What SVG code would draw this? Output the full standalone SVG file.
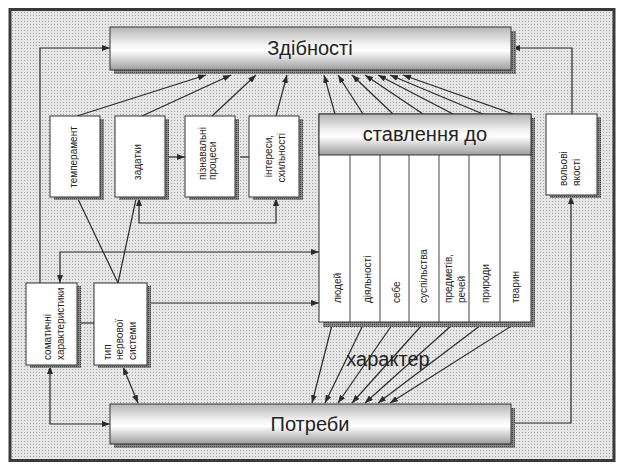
<svg xmlns="http://www.w3.org/2000/svg" width="618" height="464" viewBox="0 0 618 464">
  <defs>
    <pattern id="bg" width="3" height="3" patternUnits="userSpaceOnUse">
      <rect width="3" height="3" fill="#e6e6e6"/>
      <rect width="1" height="1" fill="#a2a2a2"/>
    </pattern>
    <pattern id="sh" width="2" height="2" patternUnits="userSpaceOnUse">
      <rect width="2" height="2" fill="#8a8a8a"/>
      <rect width="1" height="1" fill="#444"/>
    </pattern>
    <linearGradient id="hdr" x1="0" y1="0" x2="0" y2="1">
      <stop offset="0" stop-color="#b4b4b4"/>
      <stop offset="0.4" stop-color="#f2f2f2"/>
      <stop offset="0.55" stop-color="#ffffff"/>
      <stop offset="1" stop-color="#9c9c9c"/>
    </linearGradient>
    <marker id="ah" viewBox="0 0 8 6" refX="8" refY="3" markerWidth="8" markerHeight="6" markerUnits="userSpaceOnUse" orient="auto-start-reverse">
      <path d="M0,0 L8,3 L0,6 Z" fill="#2a2a2a"/>
    </marker>
  </defs>
  <style>
    .box { fill: #ffffff; stroke: #333; stroke-width: 1; }
    .hbox { fill: url(#hdr); stroke: #333; stroke-width: 1; }
    .shadow { fill: url(#sh); }
    .c { fill: none; stroke: #2a2a2a; stroke-width: 1.2; }
    .a { marker-end: url(#ah); }
    .b { marker-start: url(#ah); marker-end: url(#ah); }
    .big { font-family: "Liberation Sans", Arial, sans-serif; font-size: 20px; fill: #222; text-anchor: middle; }
    .sm { font-family: "Liberation Sans", Arial, sans-serif; font-size: 10px; fill: #222; }
    .div { stroke: #444; stroke-width: 1; }
  </style>

  <!-- frame -->
  <rect x="0" y="0" width="618" height="464" fill="#ffffff"/>
  <rect x="10" y="9.5" width="604" height="451" fill="url(#bg)" stroke="#3a3a3a" stroke-width="3"/>

  <!-- connectors -->
  <g id="connectors">
    <!-- to Здібності -->
    <path class="c a" d="M40,283 V48 H110"/>
    <path class="c a" d="M572,114 V48 H512"/>
    <path class="c a" d="M77,116 L206,75"/>
    <path class="c a" d="M142,116 L231,75"/>
    <path class="c a" d="M212,116 L256,75"/>
    <path class="c a" d="M276,116 L287,75"/>
    <path class="c a" d="M335,114 L324,75"/>
    <path class="c a" d="M363,114 L338,75"/>
    <path class="c a" d="M393,114 L352,75"/>
    <path class="c a" d="M423,114 L365,75"/>
    <path class="c a" d="M453,114 L378,75"/>
    <path class="c a" d="M483,114 L390,75"/>
    <path class="c a" d="M513,114 L403,75"/>
    <!-- between top boxes -->
    <path class="c a" d="M165,157 H185"/>
    <path class="c" d="M240,157 H249"/>
    <path class="c b" d="M139,198 V223 H276 V198"/>
    <!-- to тип нервової системи -->
    <path class="c" d="M77,197 L118,283"/>
    <path class="c" d="M136,199 L118,283"/>
    <!-- to ставлення до -->
    <path class="c b" d="M60,283 V252 H319"/>
    <path class="c a" d="M150,303 H319"/>
    <path class="c" d="M80,323 H94"/>
    <!-- to Потреби -->
    <path class="c b" d="M50,366 V424 H110"/>
    <path class="c b" d="M123,367 L138,403"/>
    <path class="c a" d="M332,325 L312,403"/>
    <path class="c a" d="M363,325 L325,403"/>
    <path class="c a" d="M392,325 L338,403"/>
    <path class="c a" d="M422,325 L352,403"/>
    <path class="c a" d="M452,325 L365,403"/>
    <path class="c a" d="M481,325 L378,403"/>
    <path class="c a" d="M513,325 L390,403"/>
    <path class="c a" d="M514,423 H571 V196"/>
  </g>

  <!-- Здібності -->
  <g id="zdibnosti">
    <rect class="shadow" x="114" y="31" width="402" height="43"/>
    <rect class="hbox" x="110" y="27" width="401" height="43"/>
    <text class="big" x="310" y="55">Здібності</text>
  </g>

  <!-- Потреби -->
  <g id="potreby">
    <rect class="shadow" x="114" y="408" width="401" height="40"/>
    <rect class="hbox" x="110" y="404" width="401" height="40"/>
    <text class="big" x="310" y="431">Потреби</text>
  </g>

  <!-- темперамент -->
  <g id="temperament">
    <rect class="shadow" x="54" y="119" width="50" height="81"/>
    <rect class="box" x="50" y="116" width="50" height="81"/>
    <text class="sm" text-anchor="middle" transform="translate(76.5,157) rotate(-90)">темперамент</text>
  </g>

  <!-- задатки -->
  <g id="zadatky">
    <rect class="shadow" x="119" y="119" width="50" height="81"/>
    <rect class="box" x="115" y="116" width="50" height="81"/>
    <text class="sm" text-anchor="middle" transform="translate(140.5,162) rotate(-90)">задатки</text>
  </g>

  <!-- пізнавальні процеси -->
  <g id="piznavalni">
    <rect class="shadow" x="189" y="119" width="50" height="81"/>
    <rect class="box" x="185" y="116" width="50" height="81"/>
    <text class="sm" transform="translate(205.5,180) rotate(-90)">пізнавальні</text>
    <text class="sm" transform="translate(216,180) rotate(-90)">процеси</text>
  </g>

  <!-- інтереси, схильності -->
  <g id="interesy">
    <rect class="shadow" x="253" y="119" width="50" height="81"/>
    <rect class="box" x="249" y="116" width="50" height="81"/>
    <text class="sm" text-anchor="end" transform="translate(271.5,135) rotate(-90)">інтереси,</text>
    <text class="sm" text-anchor="end" transform="translate(284.5,133) rotate(-90)">схильності</text>
  </g>

  <!-- ставлення до -->
  <g id="stavlennia">
    <rect class="shadow" x="323" y="118" width="212" height="209"/>
    <rect class="box" x="319" y="114" width="212" height="208"/>
    <rect class="hbox" x="319" y="114" width="212" height="41"/>
    <text class="big" x="425" y="141">ставлення до</text>
    <line class="div" x1="350" y1="155" x2="350" y2="322"/>
    <line class="div" x1="380" y1="155" x2="380" y2="322"/>
    <line class="div" x1="409" y1="155" x2="409" y2="322"/>
    <line class="div" x1="439" y1="155" x2="439" y2="322"/>
    <line class="div" x1="469" y1="155" x2="469" y2="322"/>
    <line class="div" x1="500" y1="155" x2="500" y2="322"/>
    <text class="sm" transform="translate(340.5,303) rotate(-90)">людей</text>
    <text class="sm" transform="translate(371,303) rotate(-90)">діяльності</text>
    <text class="sm" transform="translate(400,303) rotate(-90)">себе</text>
    <text class="sm" transform="translate(427,303) rotate(-90)">суспільства</text>
    <text class="sm" transform="translate(451.5,303) rotate(-90)">предметів,</text>
    <text class="sm" transform="translate(465,303) rotate(-90)">речей</text>
    <text class="sm" transform="translate(488.5,303) rotate(-90)">природи</text>
    <text class="sm" transform="translate(518.5,303) rotate(-90)">тварин</text>
  </g>

  <!-- вольові якості -->
  <g id="volovi">
    <rect class="shadow" x="550" y="117" width="51" height="81"/>
    <rect class="box" x="546" y="114" width="51" height="81"/>
    <text class="sm" transform="translate(566.5,186) rotate(-90)">вольові</text>
    <text class="sm" transform="translate(580,186) rotate(-90)">якості</text>
  </g>

  <!-- соматичні характеристики -->
  <g id="somatychni">
    <rect class="shadow" x="30" y="286" width="51" height="82"/>
    <rect class="box" x="26" y="283" width="51" height="82"/>
    <text class="sm" transform="translate(50.5,360) rotate(-90)">соматичні</text>
    <text class="sm" transform="translate(63.5,360) rotate(-90)">характеристики</text>
  </g>

  <!-- тип нервової системи -->
  <g id="typ">
    <rect class="shadow" x="98" y="286" width="53" height="82"/>
    <rect class="box" x="94" y="283" width="53" height="82"/>
    <text class="sm" transform="translate(110.5,360) rotate(-90)">тип</text>
    <text class="sm" transform="translate(123,360) rotate(-90)">нервової</text>
    <text class="sm" transform="translate(135.5,360) rotate(-90)">системи</text>
  </g>

  <!-- характер label -->
  <text class="big" x="388" y="366">характер</text>
</svg>
